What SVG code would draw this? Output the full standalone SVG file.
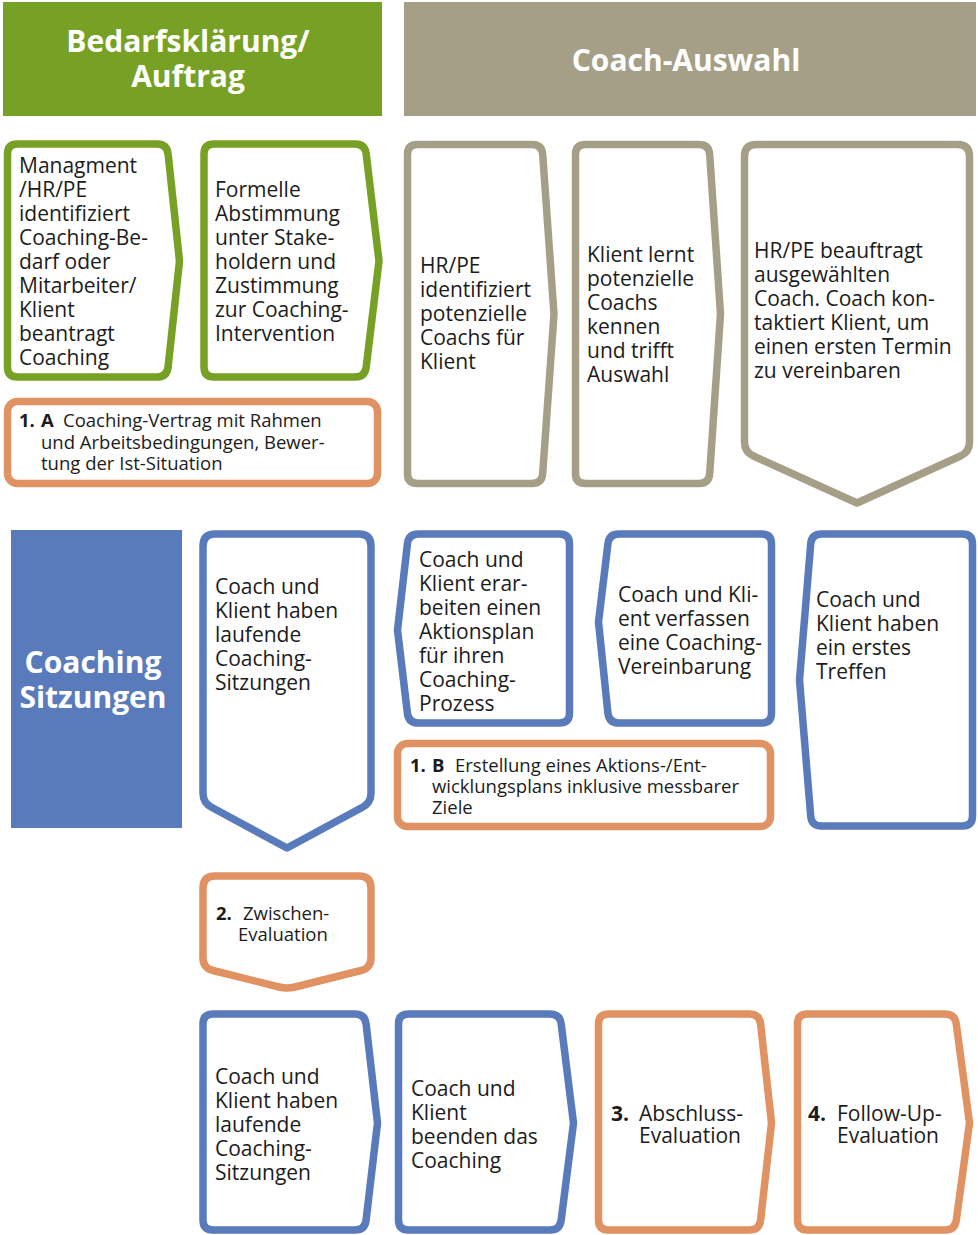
<svg xmlns="http://www.w3.org/2000/svg" width="978" height="1235" viewBox="0 0 978 1235">
<style>
.bg{fill:#ffffff}
.node{fill:#ffffff;stroke-width:7.5;stroke-linejoin:round}
.g{stroke:#77a125}
.t{stroke:#a69f87}
.b{stroke:#5a7bbb}
.o{stroke:#e09263}
text{font-family:"Open Sans","DejaVu Sans",sans-serif;fill:#1c1c1c}
.lg{font-size:21px}
.sm{font-size:18.5px}
.bd{font-weight:bold}
.hd{font-size:30px;font-weight:bold;fill:#ffffff;text-anchor:middle}
</style>
<rect class="bg" x="0" y="0" width="978" height="1235"/>

<g id="header-bedarf">
<rect x="3" y="2" width="379" height="114" fill="#77a125"/>
<text class="hd" x="188" y="52">Bedarfsklärung/</text>
<text class="hd" x="188" y="87">Auftrag</text>
</g>
<g id="header-coachauswahl">
<rect x="404" y="2" width="572" height="114" fill="#a69f87"/>
<text class="hd" x="686" y="71">Coach-Auswahl</text>
</g>
<g id="header-sitzungen">
<rect x="11" y="530" width="171" height="298" fill="#5a7bbb"/>
<text class="hd" x="93" y="673">Coaching</text>
<text class="hd" x="93" y="708">Sitzungen</text>
</g>

<g id="n1">
<path class="node g" d="M17.5,144 H157 Q167,144 168.1,154 L179.5,261 L168.1,367 Q167,377 157,377 H17.5 Q7.5,377 7.5,367 V154 Q7.5,144 17.5,144 Z"/>
<text class="lg" x="19"><tspan x="19" y="173">Managment</tspan><tspan x="19" y="197">/HR/PE</tspan><tspan x="19" y="221">identifiziert</tspan><tspan x="19" y="245">Coaching-Be-</tspan><tspan x="19" y="269">darf oder</tspan><tspan x="19" y="293">Mitarbeiter/</tspan><tspan x="19" y="317">Klient</tspan><tspan x="19" y="341">beantragt</tspan><tspan x="19" y="365">Coaching</tspan></text>
</g>
<g id="n2">
<path class="node g" d="M214,144 H355 Q365,144 366.2,154 L379,261 L366.2,367 Q365,377 355,377 H214 Q204,377 204,367 V154 Q204,144 214,144 Z"/>
<text class="lg"><tspan x="215" y="197">Formelle</tspan><tspan x="215" y="221">Abstimmung</tspan><tspan x="215" y="245">unter Stake-</tspan><tspan x="215" y="269">holdern und</tspan><tspan x="215" y="293">Zustimmung</tspan><tspan x="215" y="317">zur Coaching-</tspan><tspan x="215" y="341">Intervention</tspan></text>
</g>
<g id="n1a">
<rect class="node o" x="7.5" y="401.5" width="370" height="82" rx="10"/>
<text class="sm"><tspan class="bd" x="19" y="427">1.</tspan><tspan class="bd" x="41" y="427">A</tspan><tspan x="63" y="427">Coaching-Vertrag mit Rahmen</tspan><tspan x="41" y="448.5">und Arbeitsbedingungen, Bewer-</tspan><tspan x="41" y="470">tung der Ist-Situation</tspan></text>
</g>

<g id="n3">
<path class="node t" d="M417.5,144.5 H532 Q542,144.5 542.7,154.5 L554,314 L542.7,473.5 Q542,483.5 532,483.5 H417.5 Q407.5,483.5 407.5,473.5 V154.5 Q407.5,144.5 417.5,144.5 Z"/>
<text class="lg"><tspan x="420" y="273">HR/PE</tspan><tspan x="420" y="297">identifiziert</tspan><tspan x="420" y="321">potenzielle</tspan><tspan x="420" y="345">Coachs für</tspan><tspan x="420" y="369">Klient</tspan></text>
</g>
<g id="n4">
<path class="node t" d="M585.5,144.5 H699 Q709,144.5 709.7,154.5 L720.5,314 L709.7,473.5 Q709,483.5 699,483.5 H585.5 Q575.5,483.5 575.5,473.5 V154.5 Q575.5,144.5 585.5,144.5 Z"/>
<text class="lg"><tspan x="587" y="262">Klient lernt</tspan><tspan x="587" y="286">potenzielle</tspan><tspan x="587" y="310">Coachs</tspan><tspan x="587" y="334">kennen</tspan><tspan x="587" y="358">und trifft</tspan><tspan x="587" y="382">Auswahl</tspan></text>
</g>
<g id="n5">
<path class="node t" d="M756.5,144.5 H957.5 Q969.5,144.5 969.5,156.5 V442 Q969.5,452 960.5,456 L857,503 L753.5,456 Q744.5,452 744.5,442 V156.5 Q744.5,144.5 756.5,144.5 Z"/>
<text class="lg"><tspan x="754" y="258">HR/PE beauftragt</tspan><tspan x="754" y="282">ausgewählten</tspan><tspan x="754" y="306">Coach. Coach kon-</tspan><tspan x="754" y="330">taktiert Klient, um</tspan><tspan x="754" y="354">einen ersten Termin</tspan><tspan x="754" y="378">zu vereinbaren</tspan></text>
</g>

<g id="n6">
<path class="node b" d="M215,534 H359 Q371,534 371,546 V793 Q371,803 362,807.5 L287,848 L212,807.5 Q203,803 203,793 V546 Q203,534 215,534 Z"/>
<text class="lg"><tspan x="215" y="594">Coach und</tspan><tspan x="215" y="618">Klient haben</tspan><tspan x="215" y="642">laufende</tspan><tspan x="215" y="666">Coaching-</tspan><tspan x="215" y="690">Sitzungen</tspan></text>
</g>
<g id="n7">
<path class="node b" d="M418.5,534 H559.5 Q569.5,534 569.5,544 V713 Q569.5,723 559.5,723 H418.5 Q408.5,723 407.4,713 L397.5,630 L407.4,544 Q408.5,534 418.5,534 Z"/>
<text class="lg"><tspan x="419" y="567">Coach und</tspan><tspan x="419" y="591">Klient erar-</tspan><tspan x="419" y="615">beiten einen</tspan><tspan x="419" y="639">Aktionsplan</tspan><tspan x="419" y="663">für ihren</tspan><tspan x="419" y="687">Coaching-</tspan><tspan x="419" y="711">Prozess</tspan></text>
</g>
<g id="n8">
<path class="node b" d="M619,534 H761.5 Q771.5,534 771.5,544 V713 Q771.5,723 761.5,723 H619 Q609,723 607.9,713 L598.5,622 L607.9,544 Q609,534 619,534 Z"/>
<text class="lg"><tspan x="618" y="602">Coach und Kli-</tspan><tspan x="618" y="626">ent verfassen</tspan><tspan x="618" y="650">eine Coaching-</tspan><tspan x="618" y="674">Vereinbarung</tspan></text>
</g>
<g id="n9">
<path class="node b" d="M821.5,534 H962.5 Q972.5,534 972.5,544 V816 Q972.5,826 962.5,826 H821.5 Q811.5,826 810.7,816 L799.5,680 L810.7,544 Q811.5,534 821.5,534 Z"/>
<text class="lg"><tspan x="816" y="607">Coach und</tspan><tspan x="816" y="631">Klient haben</tspan><tspan x="816" y="655">ein erstes</tspan><tspan x="816" y="679">Treffen</tspan></text>
</g>
<g id="n1b">
<rect class="node o" x="397.5" y="743.5" width="373" height="83" rx="10"/>
<text class="sm"><tspan class="bd" x="410" y="772">1.</tspan><tspan class="bd" x="432" y="772">B</tspan><tspan x="455" y="772">Erstellung eines Aktions-/Ent-</tspan><tspan x="432" y="793">wicklungsplans inklusive messbarer</tspan><tspan x="432" y="814">Ziele</tspan></text>
</g>

<g id="n2eval">
<path class="node o" d="M215,876 H359 Q371,876 371,888 V958 Q371,968 361,970.5 L295,987 Q287,989 279,987 L213,970.5 Q203,968 203,958 V888 Q203,876 215,876 Z"/>
<text class="sm"><tspan class="bd" x="216" y="920">2.</tspan><tspan x="243" y="920">Zwischen-</tspan><tspan x="238" y="941">Evaluation</tspan></text>
</g>

<g id="n10">
<path class="node b" d="M213,1014 H355 Q365,1014 366.1,1024 L377.5,1123 L366.1,1220 Q365,1230 355,1230 H213 Q203,1230 203,1220 V1024 Q203,1014 213,1014 Z"/>
<text class="lg"><tspan x="215" y="1084">Coach und</tspan><tspan x="215" y="1108">Klient haben</tspan><tspan x="215" y="1132">laufende</tspan><tspan x="215" y="1156">Coaching-</tspan><tspan x="215" y="1180">Sitzungen</tspan></text>
</g>
<g id="n11">
<path class="node b" d="M408.5,1014 H550 Q560,1014 561.2,1024 L573.5,1123 L561.2,1220 Q560,1230 550,1230 H408.5 Q398.5,1230 398.5,1220 V1024 Q398.5,1014 408.5,1014 Z"/>
<text class="lg"><tspan x="411" y="1096">Coach und</tspan><tspan x="411" y="1120">Klient</tspan><tspan x="411" y="1144">beenden das</tspan><tspan x="411" y="1168">Coaching</tspan></text>
</g>
<g id="n12">
<path class="node o" d="M608.5,1014 H749.5 Q759.5,1014 760.6,1024 L771.5,1123 L760.6,1220 Q759.5,1230 749.5,1230 H608.5 Q598.5,1230 598.5,1220 V1024 Q598.5,1014 608.5,1014 Z"/>
<text class="lg"><tspan class="bd" x="611" y="1121">3.</tspan><tspan x="639" y="1121">Abschluss-</tspan><tspan x="639" y="1143">Evaluation</tspan></text>
</g>
<g id="n13">
<path class="node o" d="M807.5,1014 H945 Q955,1014 956.3,1024 L969.5,1123 L956.3,1220 Q955,1230 945,1230 H807.5 Q797.5,1230 797.5,1220 V1024 Q797.5,1014 807.5,1014 Z"/>
<text class="lg"><tspan class="bd" x="808" y="1121">4.</tspan><tspan x="837" y="1121">Follow-Up-</tspan><tspan x="837" y="1143">Evaluation</tspan></text>
</g>

<g id="connectors"></g>
</svg>
